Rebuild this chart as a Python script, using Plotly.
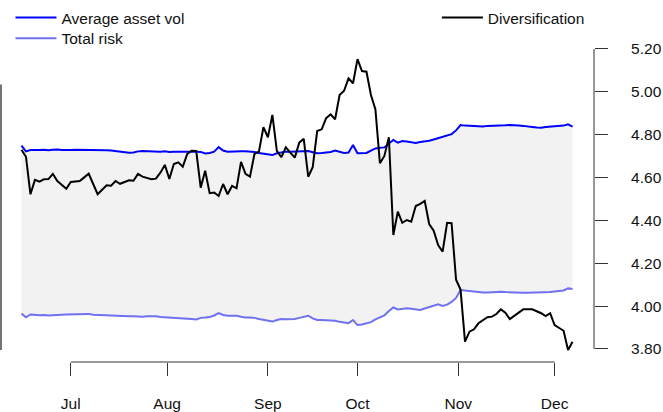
import plotly.graph_objects as go

# Diversification (right axis)
diversification = [
    4.730, 4.697, 4.522, 4.589, 4.581, 4.592, 4.593, 4.617, 4.584, 4.566,
    4.548, 4.579, 4.582, 4.584, 4.601, 4.618, 4.570, 4.522, 4.543, 4.564,
    4.562, 4.584, 4.571, 4.579, 4.587, 4.585, 4.617, 4.604, 4.598, 4.592,
    4.595, 4.623, 4.659, 4.593, 4.663, 4.671, 4.651, 4.710, 4.725, 4.724,
    4.553, 4.632, 4.527, 4.530, 4.514, 4.570, 4.522, 4.561, 4.550, 4.673,
    4.617, 4.604, 4.710, 4.721, 4.835, 4.788, 4.892, 4.725, 4.695, 4.741,
    4.716, 4.693, 4.763, 4.781, 4.604, 4.648, 4.817, 4.825, 4.877, 4.895,
    4.872, 4.985, 5.005, 5.063, 5.040, 5.153, 5.097, 5.094, 4.985, 4.918,
    4.667, 4.701, 4.788, 4.332, 4.441, 4.389, 4.402, 4.394, 4.467, 4.477,
    4.491, 4.383, 4.352, 4.285, 4.254, 4.389, 4.387, 4.123, 4.077, 3.834,
    3.881, 3.892, 3.920, 3.935, 3.948, 3.951, 3.963, 3.985, 3.969, 3.940,
    3.954, 3.971, 3.985, 3.986, 3.985, 3.976, 3.967, 3.954, 3.967, 3.912,
    3.898, 3.885, 3.795, 3.834,
]

# Average asset vol (left axis)
avg_asset_vol = [
    17.70, 17.48, 17.53, 17.52, 17.53, 17.54, 17.52, 17.54, 17.55, 17.53,
    17.52, 17.53, 17.54, 17.54, 17.52, 17.54, 17.53, 17.52, 17.53, 17.52,
    17.51, 17.49, 17.46, 17.45, 17.43, 17.44, 17.48, 17.49, 17.48, 17.48,
    17.47, 17.47, 17.48, 17.46, 17.47, 17.48, 17.47, 17.47, 17.48, 17.47,
    17.46, 17.40, 17.42, 17.47, 17.64, 17.51, 17.47, 17.48, 17.48, 17.48,
    17.48, 17.47, 17.46, 17.42, 17.40, 17.37, 17.34, 17.41, 17.44, 17.47,
    17.47, 17.47, 17.48, 17.49, 17.49, 17.45, 17.41, 17.42, 17.44, 17.46,
    17.51, 17.46, 17.42, 17.44, 17.72, 17.41, 17.41, 17.42, 17.51, 17.59,
    17.62, 17.63, 17.78, 17.91, 17.81, 17.87, 17.85, 17.83, 17.80, 17.83,
    17.85, 17.88, 17.93, 17.98, 18.02, 18.06, 18.13, 18.27, 18.47, 18.45,
    18.44, 18.42, 18.41, 18.42, 18.44, 18.44, 18.45, 18.45, 18.46, 18.47,
    18.47, 18.45, 18.44, 18.41, 18.40, 18.38, 18.37, 18.40, 18.41, 18.42,
    18.44, 18.45, 18.50, 18.41,
]

# Total risk (left axis)
total_risk = [
    11.37, 11.23, 11.34, 11.32, 11.31, 11.32, 11.30, 11.31, 11.33, 11.33,
    11.34, 11.34, 11.35, 11.36, 11.35, 11.36, 11.33, 11.32, 11.31, 11.30,
    11.29, 11.29, 11.28, 11.28, 11.27, 11.27, 11.26, 11.25, 11.27, 11.28,
    11.27, 11.24, 11.23, 11.24, 11.23, 11.22, 11.21, 11.19, 11.17, 11.15,
    11.21, 11.22, 11.24, 11.30, 11.39, 11.32, 11.29, 11.29, 11.29, 11.25,
    11.22, 11.22, 11.21, 11.17, 11.13, 11.09, 11.07, 11.13, 11.17, 11.16,
    11.16, 11.17, 11.21, 11.24, 11.29, 11.19, 11.13, 11.13, 11.12, 11.12,
    11.10, 11.06, 11.04, 11.01, 11.13, 10.94, 10.96, 11.00, 11.05, 11.15,
    11.24, 11.30, 11.47, 11.60, 11.53, 11.56, 11.57, 11.55, 11.53, 11.51,
    11.56, 11.61, 11.66, 11.72, 11.66, 11.71, 11.81, 11.96, 12.26, 12.24,
    12.22, 12.20, 12.18, 12.17, 12.17, 12.18, 12.20, 12.19, 12.18, 12.17,
    12.17, 12.17, 12.16, 12.16, 12.16, 12.16, 12.16, 12.17, 12.18, 12.20,
    12.22, 12.24, 12.32, 12.30,
]

month_labels = ["Jul", "Aug", "Sep", "Oct", "Nov", "Dec"]
month_pos = [11, 32.5, 55, 75, 97.5, 119]
right_ticks = [3.8, 4.0, 4.2, 4.4, 4.6, 4.8, 5.0, 5.2]

days = list(range(len(diversification)))
font = "Liberation Sans, Arial, sans-serif"

fig = go.Figure()

# shaded band between the two vol lines
fig.add_trace(go.Scatter(x=days, y=total_risk, mode="lines", line=dict(width=0),
                         showlegend=False, hoverinfo="skip"))
fig.add_trace(go.Scatter(x=days, y=avg_asset_vol, mode="lines", line=dict(width=0),
                         fill="tonexty", fillcolor="#F2F2F2", showlegend=False, hoverinfo="skip"))

fig.add_trace(go.Scatter(x=days, y=avg_asset_vol, mode="lines", name="Average asset vol",
                         line=dict(color="#0000FF", width=2)))
fig.add_trace(go.Scatter(x=days, y=total_risk, mode="lines", name="Total risk",
                         legend="legend3", line=dict(color="#7070F0", width=2)))
fig.add_trace(go.Scatter(x=days, y=diversification, mode="lines", name="Diversification",
                         yaxis="y2", legend="legend2", line=dict(color="black", width=2)))

legend_style = dict(xanchor="left", yanchor="top", itemwidth=41, bgcolor="rgba(0,0,0,0)")

fig.update_layout(
    width=663, height=412,
    margin=dict(l=1, r=69, t=48, b=50, autoexpand=False),
    paper_bgcolor="white", plot_bgcolor="white",
    font=dict(family=font, size=15.5, color="#111"),
    xaxis=dict(range=[-4.576, 127.79], tickvals=month_pos, ticktext=month_labels,
               ticks="outside", ticklen=13, tickcolor="#333", showgrid=False,
               zeroline=False, showline=False, ticklabelstandoff=14, automargin=False),
    yaxis=dict(range=[9.548, 21.373], showticklabels=False, showgrid=False,
               zeroline=False, showline=False, automargin=False),
    yaxis2=dict(overlaying="y", side="right", range=[3.7393, 5.2046],
                tickvals=right_ticks, tickformat=".2f", ticks="outside", ticklen=13,
                tickcolor="#333", showgrid=False, zeroline=False, showline=False,
                ticklabelstandoff=20, automargin=False),
    legend=dict(x=0.016, y=1.15, **legend_style),
    legend3=dict(x=0.016, y=1.084, **legend_style),
    legend2=dict(x=0.735, y=1.15, **legend_style),
    shapes=[
        dict(type="line", xref="x", yref="paper", x0=month_pos[0], x1=month_pos[-1],
             y0=0, y1=0, line=dict(color="#333", width=1)),
        dict(type="line", xref="paper", yref="y2", x0=1, x1=1, y0=3.8, y1=5.2,
             line=dict(color="#333", width=1)),
        dict(type="line", xref="paper", yref="y", x0=0, x1=0, y0=10, y1=20,
             line=dict(color="#444", width=1.5)),
    ],
)

# drop the browser's default body margin so the figure sits at the page corner
fig.write_html("out.html", config={"displayModeBar": False},
               post_script="document.body.style.margin='0';")
